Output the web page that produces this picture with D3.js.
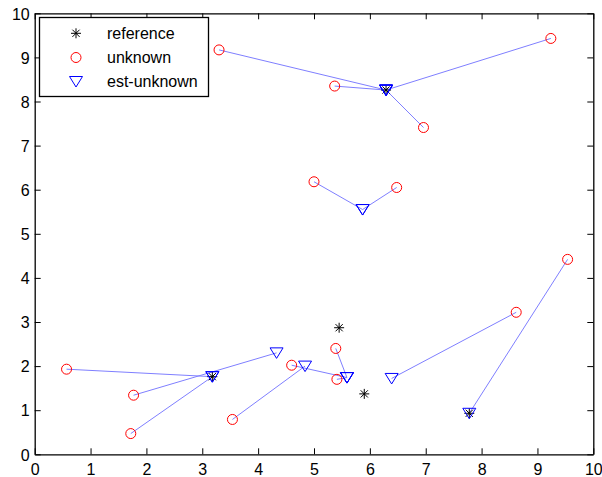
<!DOCTYPE html>
<html>
<head>
<meta charset="utf-8">
<script src="https://cdn.jsdelivr.net/npm/d3@7"></script>
<style>
  html, body { margin: 0; padding: 0; background: #fff; }
  text { font-family: "Liberation Sans", Arial, sans-serif; }
</style>
</head>
<body>
<svg id="chart" width="602" height="477"></svg>
<script>
// ---- data ----
const unknownX = [3.30, 5.37, 6.96, 9.24, 5.00, 6.48, 0.57, 1.72, 1.77, 3.54, 4.60, 5.39, 5.41, 8.62, 9.54];
const unknownY = [9.17, 8.35, 7.41, 9.43, 6.18, 6.05, 1.93, 0.47, 1.34, 0.79, 2.02, 2.40, 1.70, 3.22, 4.42];
const estX     = [6.29, 6.29, 6.29, 6.29, 5.87, 5.87, 3.18, 3.18, 4.33, 4.84, 5.59, 5.59, 5.59, 6.39, 7.78];
const estY     = [8.26, 8.26, 8.26, 8.26, 5.55, 5.55, 1.76, 1.76, 2.30, 2.00, 1.74, 1.74, 1.74, 1.72, 0.93];
const refX     = [6.29, 3.18, 5.45, 5.90, 7.78];
const refY     = [8.26, 1.76, 2.87, 1.37, 0.93];
const xTicks   = [0, 1, 2, 3, 4, 5, 6, 7, 8, 9, 10];
const yTicks   = [0, 1, 2, 3, 4, 5, 6, 7, 8, 9, 10];
const legendLabels = ["reference", "unknown", "est-unknown"];

// ---- layout ----
const svg = d3.select("#chart");
const L = 34.7, R = 593.3, T = 13.3, B = 454.3;
const x = d3.scaleLinear().domain([0, 10]).range([L, R]);
const y = d3.scaleLinear().domain([0, 10]).range([B, T]);

const tickLen = 6;
// axes
const gx = svg.append("g").attr("transform", `translate(0,${B})`)
  .call(d3.axisBottom(x).tickValues(xTicks).tickFormat(d3.format("d")).tickSizeInner(-tickLen).tickSizeOuter(0).tickPadding(9));
const gxt = svg.append("g").attr("transform", `translate(0,${T})`)
  .call(d3.axisTop(x).tickValues(xTicks).tickFormat("").tickSizeInner(-tickLen).tickSizeOuter(0));
const gy = svg.append("g").attr("transform", `translate(${L},0)`)
  .call(d3.axisLeft(y).tickValues(yTicks).tickFormat(d3.format("d")).tickSizeInner(-tickLen).tickSizeOuter(0).tickPadding(5));
const gyr = svg.append("g").attr("transform", `translate(${R},0)`)
  .call(d3.axisRight(y).tickValues(yTicks).tickFormat("").tickSizeInner(-tickLen).tickSizeOuter(0));
[gx, gxt, gy, gyr].forEach(g => {
  g.select(".domain").attr("stroke", "#000").attr("stroke-width", 1.3);
  g.selectAll(".tick line").attr("stroke", "#000").attr("stroke-width", 1);
  g.selectAll("text").attr("font-size", 16).attr("fill", "#000")
    .attr("font-family", "'Liberation Sans', Arial, sans-serif");
});
gx.selectAll("text").attr("dy", "0.71em");
gy.selectAll("text").attr("dy", "0.36em");

// ---- marks ----
const idx = d3.range(unknownX.length);
const plot = svg.append("g");

// connecting lines
plot.selectAll("line.link").data(idx).join("line")
  .attr("class", "link")
  .attr("x1", i => x(unknownX[i])).attr("y1", i => y(unknownY[i]))
  .attr("x2", i => x(estX[i])).attr("y2", i => y(estY[i]))
  .attr("stroke", "#7f7fff").attr("stroke-width", 1);

function starPath(cx, cy) {
  const a = 5, b = 3.6;
  return `M${cx - a},${cy}L${cx + a},${cy}M${cx},${cy - a}L${cx},${cy + a}` +
         `M${cx - b},${cy - b}L${cx + b},${cy + b}M${cx - b},${cy + b}L${cx + b},${cy - b}`;
}
function triPath(cx, cy) {
  return `M${cx - 6.5},${cy - 5}L${cx + 6.5},${cy - 5}L${cx},${cy + 5.5}Z`;
}

// reference stars
plot.selectAll("path.ref").data(d3.range(refX.length)).join("path")
  .attr("class", "ref")
  .attr("d", i => starPath(x(refX[i]), y(refY[i])))
  .attr("stroke", "#000").attr("stroke-width", 1).attr("fill", "none");

// unknown circles
plot.selectAll("circle.unk").data(idx).join("circle")
  .attr("class", "unk")
  .attr("cx", i => x(unknownX[i])).attr("cy", i => y(unknownY[i])).attr("r", 5)
  .attr("stroke", "#ff0000").attr("stroke-width", 1).attr("fill", "none");

// estimated triangles
plot.selectAll("path.est").data(idx).join("path")
  .attr("class", "est")
  .attr("d", i => triPath(x(estX[i]), y(estY[i])))
  .attr("stroke", "#0000ff").attr("stroke-width", 1).attr("fill", "none");

// ---- legend ----
const lg = svg.append("g");
lg.append("rect").attr("x", 39.5).attr("y", 17.5).attr("width", 169).attr("height", 79)
  .attr("fill", "#fff").attr("stroke", "#000").attr("stroke-width", 1.3);
const rowY = [33.3, 57.5, 81.5];
const mx = 76;
lg.append("path").attr("d", starPath(mx, rowY[0])).attr("stroke", "#000").attr("fill", "none");
lg.append("circle").attr("cx", mx).attr("cy", rowY[1]).attr("r", 5)
  .attr("stroke", "#ff0000").attr("fill", "none");
lg.append("path").attr("d", triPath(mx, rowY[2])).attr("stroke", "#0000ff").attr("fill", "none");
lg.selectAll("text").data(legendLabels).join("text")
  .attr("x", 107).attr("y", (d, i) => rowY[i] + 5.5)
  .attr("font-size", 16).attr("fill", "#000").text(d => d);
</script>
</body>
</html>
